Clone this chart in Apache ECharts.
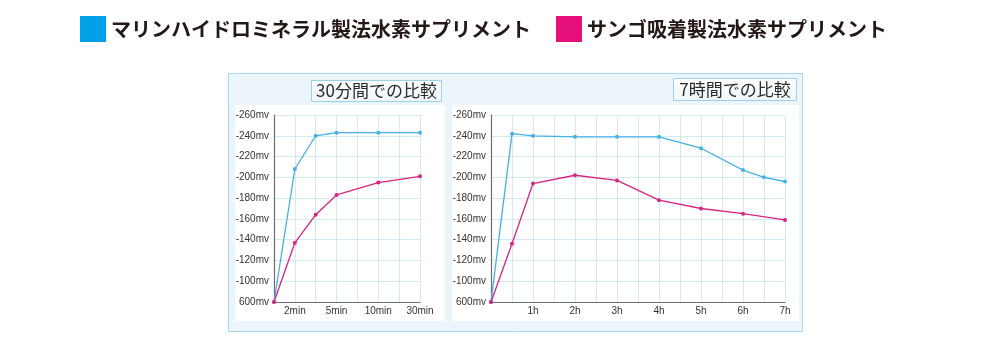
<!DOCTYPE html>
<html>
<head>
<meta charset="utf-8">
<script src="https://cdn.jsdelivr.net/npm/echarts@6/dist/echarts.min.js"></script>
<style>
html,body{margin:0;padding:0;background:#fff;}
#c{width:1000px;height:356px;}
</style>
</head>
<body>
<div id="c"></div>
<script>
// ---- data ----
const seriesNames = ['マリンハイドロミネラル製法水素サプリメント', 'サンゴ吸着製法水素サプリメント'];
const panelTitles = ['30分間での比較', '7時間での比較'];

// left chart: x positions (tick index), tick labels
const leftTickLabels = ['', '2min', '', '5min', '', '10min', '', '30min'];
const leftX = [0, 1, 2, 3, 5, 7];
const leftMarine = [-80, -208, -240, -243, -243, -243];
const leftCoral  = [-80, -137, -164, -183, -195, -201];

// right chart: x in hours
const rightTickLabels = {1: '1h', 2: '2h', 3: '3h', 4: '4h', 5: '5h', 6: '6h', 7: '7h'};
const rightMarineX = [0, 0.5, 1, 2, 3, 4, 5, 6, 6.5, 7];
const rightMarine  = [-80, -242, -240, -239, -239, -239, -228, -207, -200, -196];
const rightCoralX  = [0, 0.5, 1, 2, 3, 4, 5, 6, 7];
const rightCoral   = [-80, -136, -194, -202, -197, -178, -170, -165, -159];

// y axis: -80 position is labelled as "600mv" (start value)
const yMin = -260, yMax = -80, yStep = 20;
const yBottomLabel = '600mv';

const BLUE_LINE = '#46b0e4', PINK_LINE = '#d8247f';
const BLUE_KEY = '#00a0e9', PINK_KEY = '#e4117a';

function pairs(xs, ys){ return xs.map((x,i)=>[x, ys[i]]); }

const labelFont = "'Liberation Sans',Arial,sans-serif";
const gridLineColor = '#d3e9f7';

function yAxisCfg(gi){
  return {
    gridIndex: gi, type: 'value', inverse: true, min: yMin, max: yMax, interval: yStep,
    axisLine: {show: true, lineStyle: {color: '#6d6d6d', width: 1.2}},
    axisTick: {show: false},
    splitLine: {show: true, lineStyle: {color: gridLineColor, width: 1}},
    axisLabel: {
      margin: 5, fontSize: 10, color: '#333', fontFamily: labelFont,
      formatter: v => v === yMax ? yBottomLabel : (v + 'mv')
    }
  };
}

function lineSeries(name, gi, data, color){
  return {
    name, type: 'line', xAxisIndex: gi, yAxisIndex: gi, data,
    symbol: 'circle', symbolSize: 4, showSymbol: true,
    lineStyle: {color, width: 1.3}, itemStyle: {color},
    animation: false
  };
}

const chart = echarts.init(document.getElementById('c'), null, {renderer: 'canvas'});
chart.setOption({
  animation: false,
  backgroundColor: '#ffffff',
  legend: {
    left: 80, top: 16, padding: 0, icon: 'rect', itemWidth: 26, itemHeight: 26, itemGap: 25,
    textStyle: {fontSize: 20, fontWeight: 'bold', color: '#231815', fontFamily: "'Noto Sans CJK JP',sans-serif"},
    data: [
      {name: seriesNames[0], itemStyle: {color: BLUE_KEY}},
      {name: seriesNames[1], itemStyle: {color: PINK_KEY}}
    ],
    selectedMode: false
  },
  grid: [
    {left: 274, top: 115, width: 146, height: 187},
    {left: 491, top: 115, width: 294, height: 187}
  ],
  xAxis: [
    {
      gridIndex: 0, type: 'value', min: 0, max: leftTickLabels.length - 1, interval: 1,
      axisLine: {show: true, lineStyle: {color: '#6d6d6d', width: 1.2}},
      axisTick: {show: false},
      splitLine: {show: true, lineStyle: {color: gridLineColor, width: 1}},
      axisLabel: {margin: 4, fontSize: 10, color: '#333', fontFamily: labelFont, showMinLabel: true, showMaxLabel: true,
        formatter: v => leftTickLabels[Math.round(v)] || ''}
    },
    {
      gridIndex: 1, type: 'value', min: 0, max: 7, interval: 0.5,
      axisLine: {show: true, lineStyle: {color: '#6d6d6d', width: 1.2}},
      axisTick: {show: false},
      splitLine: {show: true, lineStyle: {color: gridLineColor, width: 1}},
      axisLabel: {margin: 4, fontSize: 10, color: '#333', fontFamily: labelFont, showMinLabel: true, showMaxLabel: true,
        formatter: v => rightTickLabels[v] || ''}
    }
  ],
  yAxis: [yAxisCfg(0), yAxisCfg(1)],
  series: [
    lineSeries(seriesNames[0], 0, pairs(leftX, leftMarine), BLUE_LINE),
    lineSeries(seriesNames[1], 0, pairs(leftX, leftCoral), PINK_LINE),
    lineSeries(seriesNames[0], 1, pairs(rightMarineX, rightMarine), BLUE_LINE),
    lineSeries(seriesNames[1], 1, pairs(rightCoralX, rightCoral), PINK_LINE)
  ],
  graphic: [
    {type: 'rect', z: -20, silent: true, shape: {x: 228.5, y: 73.5, width: 574, height: 258},
      style: {fill: '#edf5fc', stroke: '#abd6ef', lineWidth: 1}},
    {type: 'rect', z: -10, silent: true, shape: {x: 235, y: 105, width: 210, height: 216}, style: {fill: '#ffffff'}},
    {type: 'rect', z: -10, silent: true, shape: {x: 452, y: 105, width: 347, height: 216}, style: {fill: '#ffffff'}},
    {type: 'rect', z: 5, silent: true, shape: {x: 311.5, y: 80.5, width: 130, height: 21},
      style: {fill: {type: 'linear', x: 0, y: 0, x2: 0, y2: 1, colorStops: [{offset: 0, color: '#ffffff'}, {offset: 1, color: '#eef5fa'}]}, stroke: '#9ccfec', lineWidth: 1}},
    {type: 'text', z: 6, silent: true, style: {x: 376.5, y: 91, text: panelTitles[0], align: 'center', verticalAlign: 'middle',
      fontSize: 17, fill: '#2b2b2b', fontFamily: "'Noto Sans CJK JP',sans-serif"}},
    {type: 'rect', z: 5, silent: true, shape: {x: 673.5, y: 78.5, width: 123, height: 22},
      style: {fill: {type: 'linear', x: 0, y: 0, x2: 0, y2: 1, colorStops: [{offset: 0, color: '#ffffff'}, {offset: 1, color: '#eef5fa'}]}, stroke: '#9ccfec', lineWidth: 1}},
    {type: 'text', z: 6, silent: true, style: {x: 735, y: 89.5, text: panelTitles[1], align: 'center', verticalAlign: 'middle',
      fontSize: 17, fill: '#2b2b2b', fontFamily: "'Noto Sans CJK JP',sans-serif"}}
  ]
});
</script>
</body>
</html>
